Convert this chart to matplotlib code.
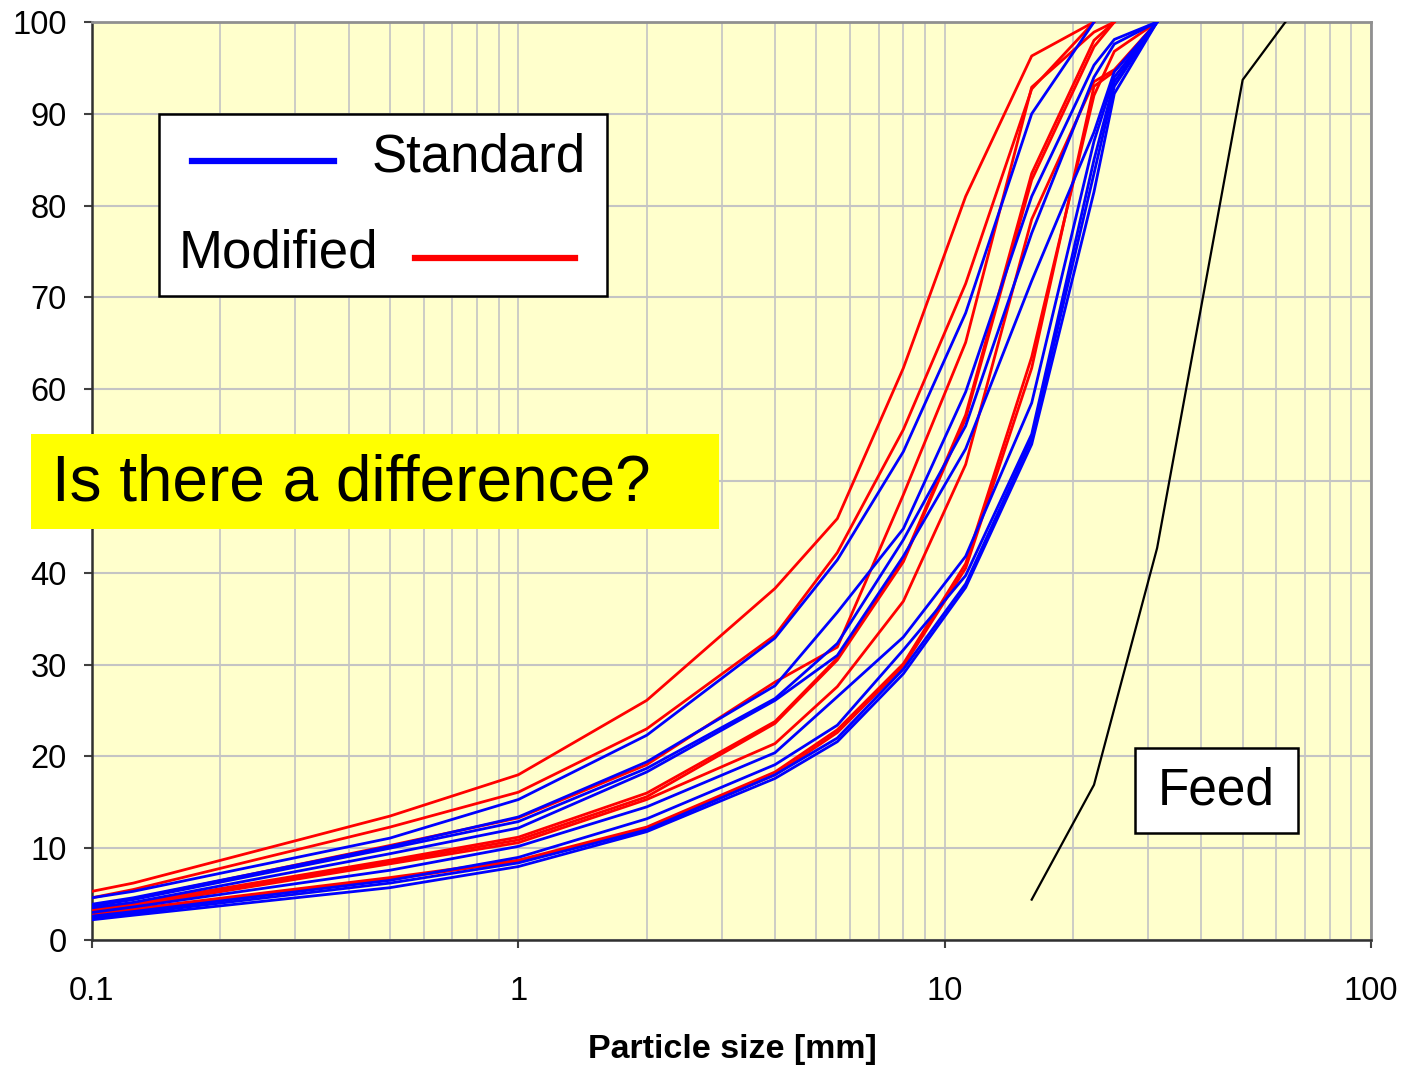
import numpy as np
import matplotlib
matplotlib.use("Agg")
import matplotlib.pyplot as plt
from matplotlib.patches import Rectangle
from matplotlib.lines import Line2D
from matplotlib.ticker import LogLocator, FixedLocator, NullFormatter

nan = np.nan
sizes = [0.1, 0.125, 0.5, 1, 2, 4, 5.6, 8, 11.2, 16, 22.4, 25, 31.5]

standard = [
    [4.6, 5.3, 11.1, 15.3, 22.3, 32.9, 41.4, 53.2, 68.3, 90.0, 100, nan, nan],
    [3.9, 4.6, 10.2, 13.4, 19.4, 27.7, 35.7, 44.8, 59.7, 81.0, 95.3, 98.1, 100],
    [3.7, 4.4, 10.0, 12.9, 18.7, 26.3, 32.3, 43.6, 56.0, 77.0, 94.0, 97.6, 100],
    [3.5, 4.1, 9.4, 12.2, 18.3, 26.1, 31.0, 41.8, 53.5, 71.8, 88.0, 94.6, 100],
    [3.0, 3.6, 7.6, 10.2, 14.5, 20.4, 26.5, 33.0, 41.8, 58.5, 87.0, 94.0, 100],
    [2.6, 3.1, 6.5, 9.0, 13.2, 19.1, 23.4, 31.6, 39.7, 55.1, 85.0, 93.5, 100],
    [2.4, 2.9, 6.2, 8.4, 12.0, 18.0, 22.0, 29.5, 38.8, 54.6, 83.5, 93.0, 100],
    [2.2, 2.7, 5.7, 8.0, 11.8, 17.6, 21.6, 29.0, 38.4, 54.0, 81.5, 92.2, 100],
]

modified = [
    [5.3, 6.2, 13.5, 18.0, 26.1, 38.3, 45.9, 62.3, 81.0, 96.3, 100, nan, nan],
    [4.6, 5.5, 12.3, 16.1, 23.0, 33.2, 42.2, 55.6, 71.5, 92.7, 100, nan, nan],
    [3.8, 4.5, 10.3, 13.3, 19.1, 28.1, 31.9, 48.5, 65.1, 92.9, 98.9, 100, nan],
    [3.4, 4.0, 8.7, 11.2, 16.0, 23.8, 30.7, 41.4, 57.2, 83.5, 98.0, 100, nan],
    [3.3, 3.9, 8.5, 10.9, 15.6, 23.6, 30.5, 41.2, 56.8, 82.8, 97.3, 100, nan],
    [3.1, 3.7, 8.3, 10.6, 15.3, 21.4, 27.6, 36.9, 51.8, 78.5, 93.5, 94.8, 100],
    [2.9, 3.4, 6.8, 8.7, 12.3, 18.3, 22.9, 30.1, 41.0, 63.5, 92.0, 96.8, 100],
    [2.7, 3.2, 6.6, 8.6, 12.1, 18.0, 22.6, 29.8, 40.5, 62.3, 93.0, 94.6, 100],
]

feed_sizes = [16, 22.4, 31.5, 50, 63]
feed_values = [4.4, 16.9, 42.7, 93.7, 100]

y_ticks = list(range(0, 101, 10))
x_ticks = [0.1, 1, 10, 100]
x_ticklabels = ["0.1", "1", "10", "100"]

plt.rcParams['font.family'] = ['Liberation Sans', 'DejaVu Sans']

W, H = 1405, 1069
fig = plt.figure(figsize=(W / 100, H / 100), dpi=100)
ax = fig.add_axes([92 / W, 1 - 940 / H, (1371 - 92) / W, (940 - 22) / H])
ax.set_facecolor('#FFFFCC')
ax.set_xscale('log')
ax.set_xlim(0.1, 100)
ax.set_ylim(0, 100)

# grid
ax.xaxis.set_major_locator(FixedLocator(x_ticks))
ax.xaxis.set_minor_locator(LogLocator(base=10, subs=np.arange(2, 10)))
ax.xaxis.set_minor_formatter(NullFormatter())
ax.set_xticklabels(x_ticklabels)
ax.set_yticks(y_ticks)
ax.grid(True, which='both', axis='x', color='#C4C4C4', lw=1.2)
ax.grid(True, which='major', axis='y', color='#C4C4C4', lw=1.5)
ax.set_axisbelow(True)

for row in modified:
    arr = np.array(row, dtype=float)
    m = ~np.isnan(arr)
    ax.plot(np.array(sizes)[m], arr[m], color='#FF0000', lw=2.0, zorder=3)
for row in standard:
    arr = np.array(row, dtype=float)
    m = ~np.isnan(arr)
    ax.plot(np.array(sizes)[m], arr[m], color='#0000FF', lw=2.0, zorder=3)
ax.plot(feed_sizes, feed_values, color='black', lw=1.6, zorder=3)

ax.tick_params(axis='both', which='major', labelsize=23.5, length=6, width=1.5, color='#404040')
ax.tick_params(axis='x', which='minor', length=0)
ax.tick_params(axis='x', pad=20)
ax.tick_params(axis='y', pad=12)
for s in ['left', 'bottom']:
    ax.spines[s].set_color('#303030')
    ax.spines[s].set_linewidth(1.8)
for s in ['top', 'right']:
    ax.spines[s].set_color('#909090')
    ax.spines[s].set_linewidth(2)

ax.set_xlabel('Particle size [mm]', fontsize=24.5, fontweight='bold')
ax.xaxis.set_label_coords((732 - 92) / (1371 - 92), (940 - 1034) / (940 - 22))

# legend box (drawn manually)
def fx(px):
    return px / W

def fy(py):
    return 1 - py / H

fig.patches.append(Rectangle((fx(159), fy(296)), fx(607) - fx(159), fy(114) - fy(296),
                             transform=fig.transFigure, facecolor='white', edgecolor='black',
                             lw=1.8, zorder=5))
fig.lines.append(Line2D([fx(192), fx(334)], [fy(161), fy(161)], transform=fig.transFigure,
                        color='#0000FF', lw=4.5, zorder=6))
fig.text(fx(372), fy(158), 'Standard', fontsize=38, va='center', ha='left', zorder=6)
fig.lines.append(Line2D([fx(415), fx(575)], [fy(258), fy(258)], transform=fig.transFigure,
                        color='#FF0000', lw=4.5, zorder=6))
fig.text(fx(179), fy(254), 'Modified', fontsize=38, va='center', ha='left', zorder=6)

# question box
fig.patches.append(Rectangle((fx(31), fy(529)), fx(719) - fx(31), fy(434) - fy(529),
                             transform=fig.transFigure, facecolor='#FFFF00', edgecolor='none',
                             zorder=5))
fig.text(fx(52), fy(484), 'Is there a difference?', fontsize=46, va='center', ha='left', zorder=6)

# feed box
fig.patches.append(Rectangle((fx(1135), fy(833)), fx(1298) - fx(1135), fy(748) - fy(833),
                             transform=fig.transFigure, facecolor='white', edgecolor='black',
                             lw=1.8, zorder=5))
fig.text(fx(1216), fy(791), 'Feed', fontsize=37, va='center', ha='center', zorder=6)

fig.savefig('out.png', dpi=100, facecolor='white')
